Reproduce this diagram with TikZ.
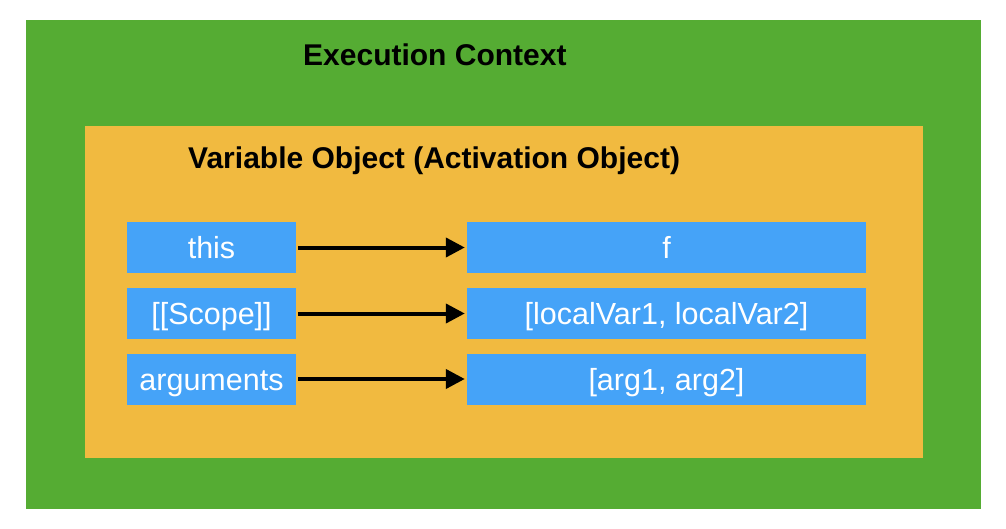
\documentclass[tikz,border=0pt]{standalone}
\usepackage{fontspec}
\setmainfont{Liberation Sans}
\usetikzlibrary{arrows.meta}

\definecolor{ecgreen}{HTML}{55AC33}
\definecolor{voorange}{HTML}{F1BA40}
\definecolor{slotblue}{HTML}{45A3F8}

\begin{document}
\begin{tikzpicture}[x=1pt,y=-1pt,
    slot/.style={fill=slotblue,inner sep=0pt,minimum height=51pt,text=white,
      text height=22pt,text depth=0pt,
      font=\fontsize{30.5}{33}\selectfont},
    key/.style={slot,minimum width=169pt},
    val/.style={slot,minimum width=399pt},
    link/.style={line width=4pt,-{Triangle[length=19pt,width=19pt]},
      shorten <=2pt,shorten >=2pt},
    title/.style={anchor=base west,inner sep=0pt,
      font=\fontsize{30}{33}\selectfont\bfseries}]
   \useasboundingbox (0,0) rectangle (1006,528);

   \path (503.5,264.5) node[fill=ecgreen,minimum width=955pt,minimum height=489pt,inner sep=0pt] (EC) {};
   \path (303,65) node[title] (ECn) {Execution Context};

   \path (504,292) node[fill=voorange,minimum width=838pt,minimum height=332pt,inner sep=0pt] (VO) {};
   \path (188,168) node[title] (VOn) {Variable Object (Activation Object)};

   \path (211.5,247.5) node[key] (K1) {this};
   \path (211.5,313.5) node[key] (K2) {[[Scope]]};
   \path (211.5,379)   node[key] (K3) {arguments};

   \path (666.5,247.5) node[val] (V1) {f};
   \path (666.5,313.5) node[val] (V2) {[localVar1, localVar2]};
   \path (666.5,379)   node[val] (V3) {[arg1, arg2]};

   % key -> value
   \draw[link] (K1) -- (V1);
   \draw[link] (K2) -- (V2);
   \draw[link] (K3) -- (V3);
\end{tikzpicture}
\end{document}
